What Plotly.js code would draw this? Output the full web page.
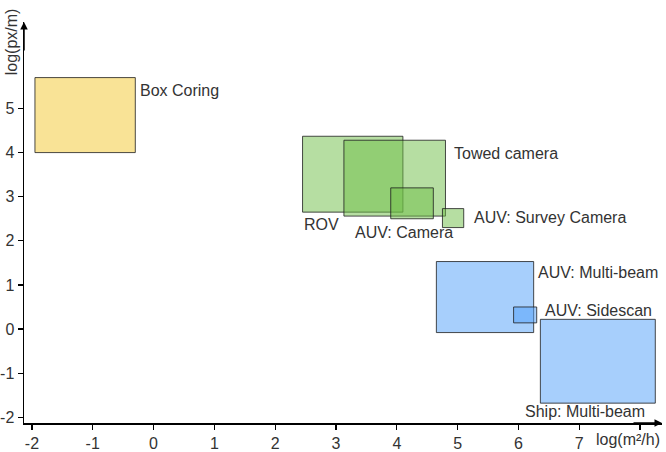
<!DOCTYPE html>
<html>
<head>
<meta charset="utf-8">
<script src="https://cdn.plot.ly/plotly-3.0.1.min.js"></script>
<style>html,body{margin:0;padding:0;background:#fff}#chart{width:666px;height:452px}</style>
</head>
<body>
<div id="chart"></div>
<script>
// Methods and their coverage boxes: log(m²/h) on x, log(px/m) on y
var names = ["Box Coring", "ROV", "Towed camera", "AUV: Camera", "AUV: Survey Camera", "AUV: Multi-beam", "AUV: Sidescan", "Ship: Multi-beam"];
var xMin = [-1.95, 2.45, 3.13, 3.90, 4.75, 4.65, 5.92, 6.36];
var xMax = [-0.30, 4.10, 4.80, 4.60, 5.10, 6.25, 6.30, 8.25];
var yMin = [4.00, 2.65, 2.56, 2.50, 2.30, -0.08, 0.14, -1.68];
var yMax = [5.70, 4.37, 4.28, 3.20, 2.73, 1.53, 0.50, 0.22];
var groups = ["core", "camera", "camera", "camera", "camera", "acoustic", "acoustic", "acoustic"];
// label anchor points (data units)
var labelX = [-0.26, 2.44, 4.90, 3.28, 5.23, 6.29, 6.40, 6.07];
var labelY = [5.40, 2.36, 3.99, 2.18, 2.52, 1.29, 0.41, -1.86];
var xTicks = [-2, -1, 0, 1, 2, 3, 4, 5, 6, 7, 8];
var xTickText = ["-2", "-1", "0", "1", "2", "3", "4", "5", "6", "7", ""];
var yTicks = [-2, -1, 0, 1, 2, 3, 4, 5];
var yTickText = ["-2", "-1", "0", "1", "2", "3", "4", "5"];

var fills = {core: "rgba(245,208,80,0.6)", camera: "rgba(110,190,70,0.5)", acoustic: "rgba(80,160,250,0.5)"};

var traces = names.map(function (n, i) {
  return {
    type: "scatter", mode: "lines", name: n,
    x: [xMin[i], xMax[i], xMax[i], xMin[i], xMin[i]],
    y: [yMin[i], yMin[i], yMax[i], yMax[i], yMin[i]],
    fill: "toself", fillcolor: fills[groups[i]],
    line: {color: "rgba(30,30,30,0.8)", width: 1},
    hoverinfo: "name", showlegend: false
  };
});

var font = {family: "Liberation Sans, Arial, sans-serif", size: 16, color: "#333"};
var annotations = names.map(function (n, i) {
  return {x: labelX[i], y: labelY[i], xref: "x", yref: "y", text: n, showarrow: false,
    xanchor: "left", yanchor: "middle", font: font};
});
annotations.push({xref: "paper", yref: "paper", x: 1, y: 0, ax: -30, ay: 0, text: "", showarrow: true,
  arrowhead: 2, arrowsize: 1, arrowwidth: 1.5, arrowcolor: "#000"});
annotations.push({xref: "paper", yref: "paper", x: 0, y: 1, ax: 0, ay: 30, text: "", showarrow: true,
  arrowhead: 2, arrowsize: 1, arrowwidth: 1.5, arrowcolor: "#000"});
annotations.push({xref: "paper", yref: "paper", x: -0.02, y: 0.95, text: "log(px/m)", textangle: -90,
  showarrow: false, xanchor: "center", yanchor: "middle", font: font});
annotations.push({xref: "paper", yref: "paper", x: 0.947, y: -0.042, text: "log(m²/h)",
  showarrow: false, xanchor: "center", yanchor: "middle", font: font});

var layout = {
  width: 666, height: 452,
  margin: {l: 24, r: 4, t: 22, b: 29},
  paper_bgcolor: "#fff", plot_bgcolor: "#fff",
  showlegend: false,
  xaxis: {range: [-2.13, 8.36], tickvals: xTicks, ticktext: xTickText, showgrid: false, zeroline: false,
    showline: true, linecolor: "#000", linewidth: 1.5, ticks: "outside", ticklen: 5, tickwidth: 1.2,
    tickcolor: "#000", tickfont: font},
  yaxis: {range: [-2.13, 6.96], tickvals: yTicks, ticktext: yTickText, showgrid: false, zeroline: false,
    showline: true, linecolor: "#000", linewidth: 1.5, ticks: "outside", ticklen: 5, tickwidth: 1.2,
    tickcolor: "#000", tickfont: font},
  annotations: annotations
};

Plotly.newPlot("chart", traces, layout, {displayModeBar: false, staticPlot: true});
</script>
</body>
</html>
